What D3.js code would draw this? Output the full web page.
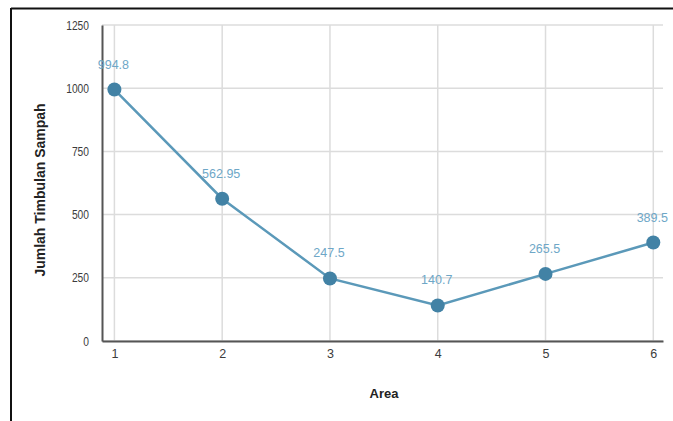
<!DOCTYPE html>
<html><head><meta charset="utf-8">
<script src="https://cdn.jsdelivr.net/npm/d3@7"></script>
<style>body{margin:0;background:#fff}svg{display:block}</style>
</head><body>
<script>
const areas = [1, 2, 3, 4, 5, 6];
const values = [994.8, 562.95, 247.5, 140.7, 265.5, 389.5];
const valueLabels = ["994.8", "562.95", "247.5", "140.7", "265.5", "389.5"];
const yTicks = [0, 250, 500, 750, 1000, 1250];

const W = 673, H = 421;
const FONT = "Liberation Sans, Arial, sans-serif";
const svg = d3.select("body").append("svg").attr("width", W).attr("height", H);
svg.append("rect").attr("width", W).attr("height", H).attr("fill", "#fff");
// frame lines
svg.append("line").attr("x1", 11).attr("x2", W).attr("y1", 8.5).attr("y2", 8.5).attr("stroke", "#111").attr("stroke-width", 2);
svg.append("line").attr("x1", 11).attr("x2", 11).attr("y1", 8).attr("y2", H).attr("stroke", "#111").attr("stroke-width", 2);

const L = 102, R = 663, T = 25, B = 341;
const x = d3.scaleLinear().domain([0.885, 6.09]).range([L, R]);
const y = d3.scaleLinear().domain([0, 1250]).range([B, T]);

// grid
svg.append("g").selectAll("line").data(yTicks).join("line")
  .attr("x1", L).attr("x2", R).attr("y1", d => y(d)).attr("y2", d => y(d))
  .attr("stroke", "#dcdcdc").attr("stroke-width", 1.5);
svg.append("g").selectAll("line").data(areas).join("line")
  .attr("x1", d => x(d)).attr("x2", d => x(d)).attr("y1", T).attr("y2", B)
  .attr("stroke", "#dcdcdc").attr("stroke-width", 1.5);

// axes
const yAxis = svg.append("g").attr("transform", `translate(${L},0)`)
  .call(d3.axisLeft(y).tickValues(yTicks).tickSize(0).tickPadding(13).tickFormat(d3.format("d")));
const xAxis = svg.append("g").attr("transform", `translate(0,${B})`)
  .call(d3.axisBottom(x).tickValues(areas).tickSize(0).tickPadding(8).tickFormat(d3.format("d")));
[yAxis, xAxis].forEach(g => {
  g.select(".domain").attr("stroke", "#555").attr("stroke-width", 2);
  g.selectAll("text").attr("fill", "#3c3c3c").attr("font-family", FONT).attr("font-size", 12.5);
});
yAxis.selectAll("text").each(function() {
  const w = this.getComputedTextLength();
  d3.select(this).attr("textLength", w * 0.82).attr("lengthAdjust", "spacingAndGlyphs");
});

// line
svg.append("path").datum(areas.map((a, i) => [a, values[i]]))
  .attr("fill", "none").attr("stroke", "#5b99b9").attr("stroke-width", 2.5)
  .attr("d", d3.line().x(d => x(d[0])).y(d => y(d[1])));

svg.append("g").selectAll("circle").data(areas).join("circle")
  .attr("cx", d => x(d)).attr("cy", (d, i) => y(values[i])).attr("r", 7)
  .attr("fill", "#4282a5");

svg.append("g").selectAll("text").data(areas).join("text")
  .attr("x", d => x(d) - 1).attr("y", (d, i) => y(values[i]) - 21)
  .attr("text-anchor", "middle")
  .attr("fill", "#6ea7c7").attr("font-family", FONT).attr("font-size", 12.5)
  .text((d, i) => valueLabels[i]);

// titles
svg.append("text").attr("x", 384).attr("y", 398).attr("text-anchor", "middle")
  .attr("font-family", FONT).attr("font-size", 13).attr("font-weight", "bold").attr("fill", "#222")
  .text("Area");
svg.append("text").attr("transform", `translate(45,190) rotate(-90)`).attr("text-anchor", "middle")
  .attr("font-family", FONT).attr("font-size", 14).attr("font-weight", "bold").attr("fill", "#222")
  .text("Jumlah Timbulan Sampah");
</script>
</body></html>
